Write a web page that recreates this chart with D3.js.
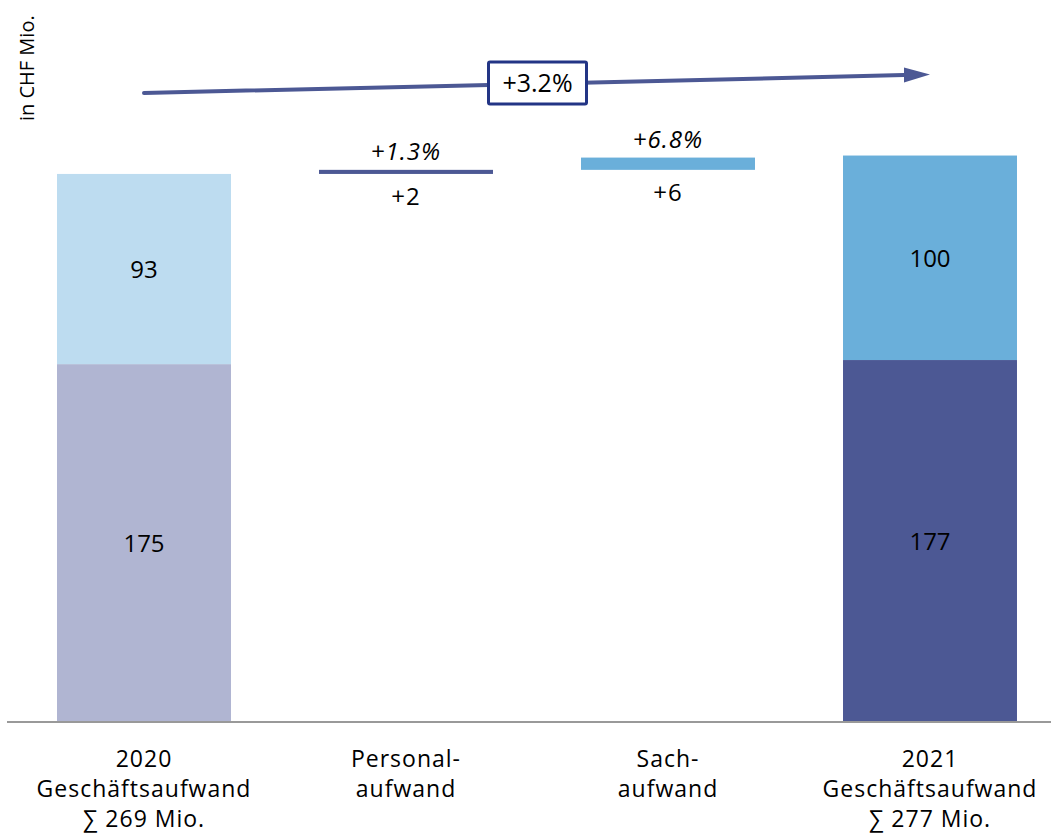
<!DOCTYPE html>
<html>
<head>
<meta charset="utf-8">
<script src="https://cdn.jsdelivr.net/npm/d3@7"></script>
<style>
  html, body { margin: 0; padding: 0; background: #fff; }
  svg { display: block; font-family: "Open Sans", "Noto Sans", sans-serif; }
</style>
</head>
<body>
<svg id="chart" width="1051" height="838"></svg>
<script>
// ---- data ----
const categories = ["2020", "Personal", "Sach", "2021"];
const categoryLabels = [
  ["2020", "Geschäftsaufwand", "∑ 269 Mio."],
  ["Personal-", "aufwand"],
  ["Sach-", "aufwand"],
  ["2021", "Geschäftsaufwand", "∑ 277 Mio."]
];
const personalValues = [175, 2, 0, 177];   // Personalaufwand
const sachValues = [93, 0, 6, 100];        // Sachaufwand
const deltaPct = ["", "+1.3%", "+6.8%", ""];
const totalGrowth = "+3.2%";
const unitLabel = "in CHF Mio.";

// ---- layout ----
const W = 1051, H = 838;
const baseY = 722;
const svg = d3.select("#chart");

const x = d3.scaleBand().domain(categories).range([13, 1061]).paddingInner(0.336).paddingOuter(0.168);
const y = d3.scaleLinear().domain([0, 280]).range([baseY, baseY - 280 * 2.045]);

const colors = {
  pers2020: "#b0b5d2", sach2020: "#bddcf0",
  pers2021: "#4c5894", sach2021: "#6aafda",
  persDelta: "#4c5894", sachDelta: "#6aafda"
};

// compute segments
const segs = [];
segs.push({cat: "2020", y0: 0, y1: personalValues[0], fill: colors.pers2020, label: personalValues[0]});
segs.push({cat: "2020", y0: personalValues[0], y1: personalValues[0] + sachValues[0], fill: colors.sach2020, label: sachValues[0]});
let running = personalValues[0] + sachValues[0];
segs.push({cat: "Personal", y0: running, y1: running + personalValues[1], fill: colors.persDelta, delta: true, label: "+" + personalValues[1], pct: deltaPct[1]});
running += personalValues[1];
segs.push({cat: "Sach", y0: running, y1: running + sachValues[2], fill: colors.sachDelta, delta: true, label: "+" + sachValues[2], pct: deltaPct[2]});
segs.push({cat: "2021", y0: 0, y1: personalValues[3], fill: colors.pers2021, label: personalValues[3]});
segs.push({cat: "2021", y0: personalValues[3], y1: personalValues[3] + sachValues[3], fill: colors.sach2021, label: sachValues[3]});

svg.append("g").selectAll("rect").data(segs).join("rect")
  .attr("x", d => x(d.cat))
  .attr("width", x.bandwidth())
  .attr("y", d => y(d.y1))
  .attr("height", d => y(d.y0) - y(d.y1))
  .attr("fill", d => d.fill);

// labels inside total bars
svg.append("g").selectAll("text").data(segs.filter(d => !d.delta)).join("text")
  .attr("x", d => x(d.cat) + x.bandwidth() / 2)
  .attr("y", d => (y(d.y0) + y(d.y1)) / 2 + 9)
  .attr("text-anchor", "middle")
  .attr("font-size", 24)
  .attr("fill", "#000")
  .text(d => d.label);

// delta labels
const deltas = segs.filter(d => d.delta);
svg.append("g").selectAll("text").data(deltas).join("text")
  .attr("x", d => x(d.cat) + x.bandwidth() / 2)
  .attr("y", d => y(d.y0) + 31)
  .attr("text-anchor", "middle")
  .attr("font-size", 24)
  .attr("letter-spacing", 1)
  .attr("fill", "#000")
  .text(d => d.label);
svg.append("g").selectAll("text").data(deltas).join("text")
  .attr("x", d => x(d.cat) + x.bandwidth() / 2)
  .attr("y", d => y(d.y1) - 10)
  .attr("text-anchor", "middle")
  .attr("font-size", 24)
  .attr("letter-spacing", 1)
  .attr("font-style", "italic")
  .attr("fill", "#000")
  .text(d => d.pct);

// baseline
svg.append("line")
  .attr("x1", 7).attr("x2", W)
  .attr("y1", baseY).attr("y2", baseY)
  .attr("stroke", "#999").attr("stroke-width", 2);

// category labels
const catG = svg.append("g");
categories.forEach((c, i) => {
  const t = catG.append("text")
    .attr("x", x(c) + x.bandwidth() / 2)
    .attr("y", 767)
    .attr("text-anchor", "middle")
    .attr("font-size", 23)
    .attr("letter-spacing", 1)
    .attr("fill", "#000");
  categoryLabels[i].forEach((ln, j) => {
    t.append("tspan").attr("x", x(c) + x.bandwidth() / 2).attr("y", 767 + j * 30).text(ln);
  });
});

// unit label
svg.append("text")
  .attr("transform", "translate(34,121) rotate(-90)")
  .attr("font-size", 20)
  .attr("fill", "#000")
  .text(unitLabel);

// growth arrow
const ax0 = x("2020") + x.bandwidth() / 2;
const ax1 = x("2021") + x.bandwidth() / 2;
const ay0 = 93, ay1 = 74.5;
const headLen = 26, headHalf = 7.5;
const bx = ax1 - headLen;
const by = ay0 + (ay1 - ay0) * (bx - ax0) / (ax1 - ax0);
svg.append("line")
  .attr("x1", ax0).attr("y1", ay0).attr("x2", bx).attr("y2", by)
  .attr("stroke", "#4c5894").attr("stroke-width", 4).attr("stroke-linecap", "round");
svg.append("path")
  .attr("d", `M${bx},${by - headHalf} L${ax1},${ay1} L${bx},${by + headHalf} Z`)
  .attr("fill", "#4c5894");

// growth box
const boxCx = 537.5, boxW = 98, boxH = 42, boxCy = 83;
svg.append("rect")
  .attr("x", boxCx - boxW / 2).attr("y", boxCy - boxH / 2)
  .attr("width", boxW).attr("height", boxH)
  .attr("fill", "#fff").attr("stroke", "#233585").attr("stroke-width", 3).attr("rx", 1.5);
svg.append("text")
  .attr("x", boxCx).attr("y", boxCy + 9)
  .attr("text-anchor", "middle")
  .attr("font-size", 25)
  .attr("fill", "#000")
  .text(totalGrowth);
</script>
</body>
</html>
